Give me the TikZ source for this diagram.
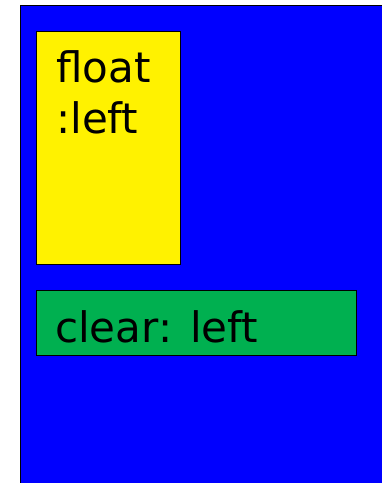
\documentclass[tikz,border=0pt]{standalone}
\usepackage{fontspec}
\setmainfont{DejaVu Sans}
\definecolor{panelblue}{RGB}{0,0,255}
\definecolor{boxgreen}{RGB}{0,176,80}
\begin{document}
\begin{tikzpicture}[x=1pt,y=1pt,
  box/.style={draw=black,line width=1.4pt,inner sep=0pt,anchor=north west},
  lbl/.style={inner sep=0pt,anchor=base west,font=\fontsize{42}{51}\selectfont}]
  \useasboundingbox (0,0) rectangle (382,-483);
  \clip (0,0) rectangle (382,-483);
  % outer container
  \node[box,fill=panelblue,minimum width=380,minimum height=500] (panel) at (20,-4.5) {};
  % floated block
  \node[box,fill=yellow,minimum width=144,minimum height=233] (flt) at (36,-31) {};
  \node[lbl] (fltA) at (56,-82) {float};
  \node[lbl] (fltB) at (56,-133) {:left};
  % cleared block
  \node[box,fill=boxgreen,minimum width=320,minimum height=65] (clr) at (36,-290) {};
  \node[lbl] (clrtxt) at (55,-342) {clear: left};
\end{tikzpicture}
\end{document}
